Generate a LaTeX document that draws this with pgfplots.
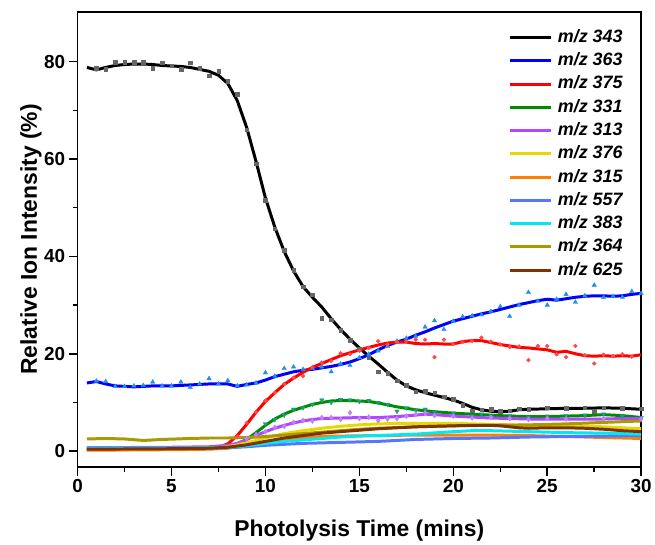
\documentclass[border=0pt]{standalone}
\usepackage{pgfplots}
\pgfplotsset{compat=1.18}
\usepackage{fontspec}
\setmainfont{Liberation Sans}
\definecolor{c343}{HTML}{000000}
\definecolor{c363}{HTML}{0000FF}
\definecolor{c375}{HTML}{FF0000}
\definecolor{c331}{HTML}{008C00}
\definecolor{c313}{HTML}{B048FF}
\definecolor{c376}{HTML}{E6D800}
\definecolor{c315}{HTML}{FF7F00}
\definecolor{c557}{HTML}{5577FF}
\definecolor{c383}{HTML}{00E8F5}
\definecolor{c364}{HTML}{A89A00}
\definecolor{c625}{HTML}{7F3300}
\definecolor{m343}{HTML}{666666}
\definecolor{m363}{HTML}{2090E8}
\definecolor{m375}{HTML}{FF4848}
\definecolor{m331}{HTML}{1A9E7A}
\definecolor{m313}{HTML}{C080FF}
\begin{document}
\begin{tikzpicture}
\begin{axis}[
  scale only axis, width=567pt, height=458pt,
  xmin=0, xmax=30, ymin=-3.3, ymax=90.2,
  xtick={0,5,...,30}, ytick={0,20,...,80},
  minor xtick={2.5,7.5,...,27.5}, minor ytick={10,30,50,70},
  tick align=outside, major tick length=9pt, minor tick length=5pt,
  xtick pos=bottom, ytick pos=left,
  axis line style={line width=1.5pt},
  every tick/.style={black, line width=1.5pt},
  /pgf/number format/assume math mode=true,
  tick label style={font=\bfseries\fontsize{19}{19}\selectfont},
  xlabel={Photolysis Time (mins)},
  ylabel={Relative Ion Intensity (\%)},
  label style={font=\bfseries\fontsize{23}{23}\selectfont},
  xlabel style={at={(axis description cs:0.5,-0.1513)}, anchor=base},
  ylabel style={at={(axis description cs:-0.0723,0.5)}, anchor=base},
  legend cell align=left,
  legend style={at={(axis description cs:0.764,0.9613)}, anchor=north west,
    draw=none, fill=none, inner sep=0pt, outer sep=0pt,
    font=\bfseries\itshape\fontsize{18}{18}\selectfont,
    nodes={text height=13pt, text depth=3pt, inner sep=0pt},
    row sep=7.4pt, column sep=5pt},
  legend image code/.code={\draw[#1, line width=3pt] (0pt,0pt) -- (42pt,0pt);},
  every axis plot/.append style={line width=3pt},
  mscat/.style={only marks, line width=0.3pt, forget plot},
]
% scatter markers
\addplot[mscat, mark=square*, mark size=1.8pt, color=m343] coordinates {
(1.0,78.6)(1.5,78.4)(2.0,79.9)(2.5,79.9)(3.0,79.9)(3.5,79.9)(4.0,78.6)(4.5,79.8)(5.0,79.2)(5.5,78.4)(6.0,79.8)(6.5,78.6)(7.0,77.1)(7.5,78.0)(8.0,76.0)(8.5,73.3)(9.0,66.0)(9.5,59.0)(10.0,51.5)(10.5,45.7)(11.0,41.3)(11.5,37.2)(12.0,33.8)(12.5,32.1)(13.0,27.3)(13.5,27.0)(14.0,24.8)(14.5,22.8)(15.0,21.0)(15.5,19.2)(16.0,16.3)(16.5,16.0)(17.0,14.5)(17.5,13.5)(18.0,12.2)(18.5,12.3)(19.0,12.0)(19.5,11.2)(20.0,10.7)(20.5,9.5)(21.0,8.3)(21.5,8.5)(22.0,8.6)(22.5,8.2)(23.0,8.3)(23.5,8.7)(24.0,8.6)(25.0,8.9)(26.0,8.8)(27.0,8.9)(27.5,8.2)(28.0,8.9)(29.0,8.8)(30.0,8.7)};
\addplot[mscat, mark=triangle*, mark size=2.6pt, color=m363] coordinates {
(1.0,14.4)(1.5,14.3)(2.0,13.3)(2.5,13.3)(3.0,13.4)(3.5,13.5)(4.0,14.2)(4.5,13.4)(5.0,13.4)(5.5,14.2)(6.0,13.1)(6.5,13.8)(7.0,14.9)(7.5,13.8)(8.0,14.5)(8.5,13.4)(9.0,13.6)(9.5,14.0)(10.0,16.1)(10.5,15.4)(11.0,17.0)(11.5,17.3)(12.0,16.8)(12.5,17.0)(13.0,17.3)(13.5,16.3)(14.0,17.9)(14.5,17.6)(15.0,19.2)(15.5,19.9)(16.0,20.6)(16.5,21.5)(17.0,22.6)(17.5,23.2)(18.0,23.6)(18.5,25.5)(19.0,26.8)(19.5,25.0)(20.0,26.7)(20.5,27.6)(21.0,27.8)(21.5,28.0)(22.0,28.7)(22.5,29.7)(23.0,27.7)(23.5,30.0)(24.0,32.6)(24.5,30.8)(25.0,30.0)(25.5,31.2)(26.0,32.2)(26.5,30.6)(27.0,31.9)(27.5,34.1)(28.0,31.6)(28.5,31.8)(29.0,31.6)(29.5,32.8)(30.0,32.4)};
\addplot[mscat, mark=*, mark size=2pt, color=m375] coordinates {
(8.5,3.0)(9.0,5.8)(9.5,8.0)(10.0,10.4)(10.5,12.0)(11.0,13.8)(11.5,15.1)(12.0,15.4)(12.5,17.2)(13.0,18.2)(13.5,18.5)(14.0,20.1)(14.5,19.9)(15.0,20.6)(15.5,21.2)(16.0,22.6)(16.5,21.9)(17.0,22.4)(17.5,22.6)(18.0,22.9)(18.5,22.9)(19.0,19.3)(19.5,22.9)(20.0,22.0)(20.5,22.4)(21.0,22.6)(21.5,23.3)(22.0,22.5)(22.5,21.9)(23.0,21.4)(23.5,21.5)(24.0,18.7)(24.5,21.6)(25.0,21.6)(25.5,19.9)(26.0,19.3)(26.5,21.6)(27.0,19.7)(27.5,18.0)(28.0,19.8)(28.5,19.5)(29.0,19.9)(29.5,19.4)};
\addplot[mscat, mark=triangle*, mark options={rotate=180}, mark size=2.6pt, color=m331] coordinates {
(10.0,5.6)(10.5,6.5)(11.0,7.4)(11.5,8.6)(12.0,8.9)(12.5,9.6)(13.0,10.5)(13.5,10.0)(14.0,10.6)(14.5,10.5)(15.0,10.2)(15.5,10.4)(16.0,10.0)(16.5,9.6)(17.0,8.2)(17.5,8.9)(18.0,8.4)(18.5,8.6)(19.0,8.0)(20.0,7.8)(21.0,7.2)(21.5,7.6)(22.0,7.3)(23.0,7.3)(24.0,7.0)(25.0,7.2)(26.0,7.3)(27.0,7.4)(28.0,7.6)(29.0,7.2)(30.0,6.9)};
\addplot[mscat, mark=diamond*, mark size=2.6pt, color=m313] coordinates {
(9.0,2.6)(9.5,3.4)(10.0,4.0)(10.5,4.9)(11.0,5.1)(11.5,5.9)(12.0,6.3)(12.5,6.2)(13.0,6.9)(13.5,6.9)(14.0,6.5)(14.5,7.9)(15.0,6.7)(15.5,7.0)(16.0,6.3)(16.5,6.6)(17.0,6.7)(17.5,7.2)(18.0,7.6)(18.5,7.9)(19.0,7.3)(20.0,7.2)(21.0,6.8)(22.0,6.9)(23.0,6.7)(24.0,6.5)(25.0,6.7)(26.0,6.6)(28.0,6.7)(30.0,6.6)};
% smoothed lines
\addplot[color=c343, no marks] coordinates {
(0.5,78.8)(1.0,78.3)(1.5,78.8)(2.0,79.2)(2.5,79.4)(3.0,79.5)(3.5,79.5)(4.0,79.4)(4.5,79.2)(5.0,79.1)(5.5,79.0)(6.0,78.8)(6.5,78.4)(7.0,78.0)(7.5,77.2)(8.0,75.5)(8.5,72.0)(9.0,66.5)(9.5,59.5)(10.0,52.0)(10.5,46.0)(11.0,41.0)(11.5,37.0)(12.0,33.8)(12.5,31.6)(13.0,29.6)(13.5,27.2)(14.0,25.0)(14.5,23.0)(15.0,21.2)(15.5,19.5)(16.0,17.9)(16.5,16.2)(17.0,14.6)(17.5,13.4)(18.0,12.6)(18.5,12.0)(19.0,11.5)(19.5,11.0)(20.0,10.5)(20.5,9.8)(21.0,9.0)(21.5,8.5)(22.0,8.2)(22.5,8.1)(23.0,8.2)(23.5,8.5)(24.0,8.6)(25.0,8.7)(26.0,8.8)(27.0,8.8)(28.0,8.9)(29.0,8.8)(29.5,8.7)(30.0,8.6)};
\addlegendentry{m/z 343}
\addplot[color=c363, no marks] coordinates {
(0.5,14.0)(1.0,14.3)(1.5,13.8)(2.0,13.4)(2.5,13.3)(3.0,13.2)(3.5,13.3)(4.0,13.4)(4.5,13.4)(5.0,13.4)(5.5,13.5)(6.0,13.6)(6.5,13.7)(7.0,13.8)(7.5,13.8)(8.0,13.8)(8.5,13.3)(9.0,13.7)(9.5,14.0)(10.0,14.6)(10.5,15.3)(11.0,15.8)(11.5,16.3)(12.0,16.6)(12.5,16.8)(13.0,17.1)(13.5,17.4)(14.0,17.8)(14.5,18.3)(15.0,19.0)(15.5,19.8)(16.0,20.8)(16.5,21.7)(17.0,22.4)(17.5,23.0)(18.0,23.8)(18.5,24.5)(19.0,25.3)(19.5,26.0)(20.0,26.7)(20.5,27.2)(21.0,27.7)(21.5,28.2)(22.0,28.6)(22.5,29.1)(23.0,29.6)(23.5,30.1)(24.0,30.5)(24.5,30.9)(25.0,31.2)(25.5,31.0)(26.0,31.3)(26.5,31.6)(27.0,31.8)(27.5,31.9)(28.0,31.9)(28.5,31.8)(29.0,31.9)(29.5,32.2)(30.0,32.4)};
\addlegendentry{m/z 363}
\addplot[color=c375, no marks] coordinates {
(0.5,0.3)(2.0,0.3)(4.0,0.4)(6.0,0.5)(7.0,0.6)(7.5,0.8)(8.0,1.5)(8.5,3.2)(9.0,5.5)(9.5,8.0)(10.0,10.2)(10.5,12.0)(11.0,13.7)(11.5,15.0)(12.0,16.2)(12.5,17.2)(13.0,18.0)(13.5,18.8)(14.0,19.6)(14.5,20.2)(15.0,20.8)(15.5,21.3)(16.0,21.8)(16.5,22.2)(17.0,22.4)(17.5,22.4)(18.0,22.1)(18.5,22.0)(19.0,22.1)(19.5,22.0)(20.0,22.0)(20.5,22.5)(21.0,22.7)(21.5,22.7)(22.0,22.3)(22.5,21.9)(23.0,21.6)(23.5,21.3)(24.0,21.2)(24.5,21.0)(25.0,20.8)(25.5,20.3)(26.0,20.5)(26.5,20.0)(27.0,19.6)(27.5,19.5)(28.0,19.6)(28.5,19.5)(29.0,19.6)(29.5,19.5)(30.0,19.8)};
\addlegendentry{m/z 375}
\addplot[color=c331, no marks] coordinates {
(0.5,0.5)(3.0,0.4)(5.0,0.5)(7.0,0.5)(8.0,0.8)(8.5,1.4)(9.0,2.4)(9.5,3.8)(10.0,5.3)(10.5,6.6)(11.0,7.6)(11.5,8.4)(12.0,9.0)(12.5,9.6)(13.0,10.0)(13.5,10.3)(14.0,10.4)(14.5,10.4)(15.0,10.3)(15.5,10.2)(16.0,9.9)(16.5,9.5)(17.0,9.1)(17.5,8.8)(18.0,8.5)(19.0,8.1)(20.0,7.8)(21.0,7.6)(22.0,7.4)(23.0,7.2)(24.0,7.1)(25.0,7.1)(26.0,7.2)(27.0,7.3)(28.0,7.5)(29.0,7.3)(30.0,6.9)};
\addlegendentry{m/z 331}
\addplot[color=c313, no marks] coordinates {
(0.5,0.7)(5.0,0.8)(7.0,0.9)(8.0,1.2)(8.5,1.6)(9.0,2.4)(9.5,3.2)(10.0,4.0)(10.5,4.7)(11.0,5.3)(11.5,5.8)(12.0,6.2)(12.5,6.5)(13.0,6.7)(14.0,6.8)(15.0,6.9)(16.0,6.9)(17.0,7.1)(18.0,7.4)(18.5,7.6)(19.0,7.5)(20.0,7.2)(21.0,7.0)(22.0,6.8)(23.0,6.7)(24.0,6.6)(25.0,6.6)(26.0,6.6)(27.0,6.6)(28.0,6.6)(29.0,6.7)(30.0,6.7)};
\addlegendentry{m/z 313}
\addplot[color=c376, no marks] coordinates {
(0.5,0.4)(5.0,0.5)(7.0,0.6)(8.0,0.9)(9.0,1.7)(10.0,2.7)(11.0,3.6)(12.0,4.2)(13.0,4.7)(14.0,5.1)(15.0,5.4)(16.0,5.6)(17.0,5.7)(18.0,5.7)(19.0,5.7)(20.0,5.7)(21.0,5.6)(22.0,5.5)(23.0,5.4)(24.0,5.3)(25.0,5.2)(26.0,5.2)(27.0,5.1)(28.0,5.0)(29.0,4.8)(30.0,4.6)};
\addlegendentry{m/z 376}
\addplot[color=c315, no marks] coordinates {
(0.5,0.2)(5.0,0.3)(7.0,0.4)(8.0,0.6)(9.0,1.2)(10.0,1.8)(11.0,2.4)(12.0,2.8)(13.0,3.0)(14.0,3.1)(16.0,3.2)(18.0,3.3)(20.0,3.3)(22.0,3.3)(24.0,3.2)(26.0,3.0)(28.0,2.8)(30.0,2.6)};
\addlegendentry{m/z 315}
\addplot[color=c557, no marks] coordinates {
(0.5,0.5)(5.0,0.6)(7.0,0.6)(8.0,0.7)(9.0,0.9)(10.0,1.2)(11.0,1.4)(12.0,1.6)(13.0,1.7)(14.0,1.8)(16.0,2.0)(18.0,2.4)(20.0,2.6)(22.0,2.7)(24.0,2.9)(26.0,3.0)(28.0,3.1)(30.0,3.2)};
\addlegendentry{m/z 557}
\addplot[color=c383, no marks] coordinates {
(0.5,0.6)(5.0,0.6)(7.0,0.7)(8.0,0.8)(9.0,1.1)(10.0,1.6)(11.0,2.0)(12.0,2.3)(13.0,2.6)(14.0,2.9)(15.0,3.1)(16.0,3.2)(18.0,3.5)(20.0,4.0)(21.0,4.2)(22.0,4.2)(23.0,4.1)(24.0,4.0)(26.0,3.8)(28.0,3.7)(30.0,3.5)};
\addlegendentry{m/z 383}
\addplot[color=c364, no marks] coordinates {
(0.5,2.5)(1.5,2.6)(2.5,2.5)(3.5,2.2)(4.5,2.4)(6.0,2.6)(7.0,2.7)(8.0,2.7)(9.0,2.8)(10.0,3.0)(11.0,3.3)(12.0,3.6)(13.0,3.9)(14.0,4.2)(15.0,4.5)(16.0,4.7)(18.0,5.0)(20.0,5.2)(22.0,5.3)(24.0,5.4)(26.0,5.6)(28.0,5.9)(30.0,6.2)};
\addlegendentry{m/z 364}
\addplot[color=c625, no marks] coordinates {
(0.5,0.4)(5.0,0.5)(7.0,0.6)(8.0,0.8)(9.0,1.3)(10.0,2.0)(11.0,2.7)(12.0,3.2)(13.0,3.7)(14.0,4.0)(15.0,4.3)(16.0,4.6)(17.0,4.8)(18.0,5.0)(19.0,5.1)(20.0,5.2)(21.0,5.3)(22.0,5.3)(22.5,5.2)(23.0,5.0)(23.5,4.8)(24.0,4.7)(25.0,4.8)(26.0,4.8)(27.0,4.7)(28.0,4.5)(29.0,4.2)(30.0,4.0)};
\addlegendentry{m/z 625}
\end{axis}
\path (current axis.south west) ++(-78pt,-72pt) rectangle ++(655pt,542pt);
\end{tikzpicture}
\end{document}
